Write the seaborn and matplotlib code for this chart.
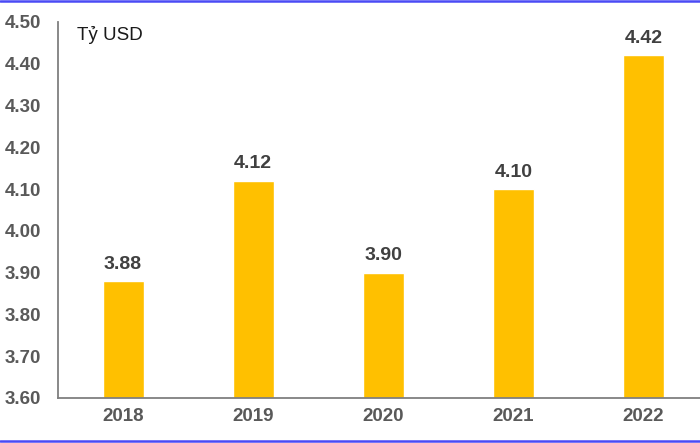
import matplotlib
matplotlib.use("Agg")
import matplotlib.pyplot as plt
import seaborn as sns
import pandas as pd
from matplotlib.lines import Line2D

years = ["2018", "2019", "2020", "2021", "2022"]
values = [3.88, 4.12, 3.90, 4.10, 4.42]
yticks = [3.60, 3.70, 3.80, 3.90, 4.00, 4.10, 4.20, 4.30, 4.40, 4.50]
unit_label = "Tỷ USD"

sns.set_theme(style="white")
plt.rcParams['font.family'] = ['Liberation Sans', 'DejaVu Sans']

df = pd.DataFrame({"year": years, "value": values})

fig = plt.figure(figsize=(7.0, 4.43), dpi=100)
ax = fig.add_axes([58/700, 45/443, 1 - 58/700, (421 - 45)/443])

sns.barplot(data=df, x="year", y="value", color="#FFC000", saturation=1,
            width=0.315, ax=ax)

ax.set_ylim(3.60, 4.50)
ax.set_xlim(-0.5, 4.435)
ax.set_yticks(yticks)
ax.set_yticklabels([f"{t:.2f}" for t in yticks])
ax.set_xlabel("")
ax.set_ylabel("")

for lab in ax.get_yticklabels():
    lab.set_fontweight("bold")
    lab.set_fontsize(13.5)
    lab.set_color("#595959")
for lab in ax.get_xticklabels():
    lab.set_fontweight("bold")
    lab.set_fontsize(13.5)
    lab.set_color("#595959")

ax.tick_params(axis="y", length=0, pad=12)
ax.tick_params(axis="x", length=0, pad=7)

for s in ["top", "right"]:
    ax.spines[s].set_visible(False)
for s in ["left", "bottom"]:
    ax.spines[s].set_color("#7f7f7f")
    ax.spines[s].set_linewidth(1.3)

for c in ax.containers:
    ax.bar_label(c, labels=[f"{v:.2f}" for v in values], padding=6,
                 fontsize=14, fontweight="bold", color="#404040")

ax.text(0.03, 0.965, unit_label, transform=ax.transAxes, fontsize=13.5,
        color="#1a1a1a", ha="left", va="center")

fig.add_artist(Line2D([0, 1], [1 - 1/443, 1 - 1/443], transform=fig.transFigure,
                      color="#4a4af5", linewidth=1.8))
fig.add_artist(Line2D([0, 1], [2/443, 2/443], transform=fig.transFigure,
                      color="#4a4af5", linewidth=1.8))

fig.savefig("out.png", dpi=100)
